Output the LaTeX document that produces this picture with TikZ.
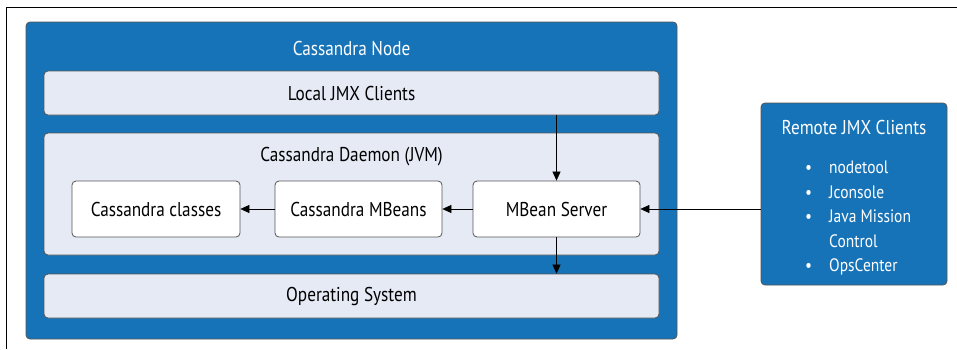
\documentclass[tikz,border=0pt]{standalone}
\usepackage{fontspec}
\setmainfont[FakeStretch=0.86]{PT Sans}
\usepackage{tikz}
\usetikzlibrary{arrows.meta,positioning}
\definecolor{nodeblue}{RGB}{23,115,183}
\definecolor{paleblue}{RGB}{230,234,245}
\definecolor{edgegray}{RGB}{85,85,85}

\tikzset{
  bluebox/.style={draw=edgegray,fill=nodeblue,rounded corners=4pt,line width=0.8pt},
  layerbox/.style={draw=edgegray,fill=paleblue,rounded corners=4pt,line width=0.8pt},
  classbox/.style={draw=edgegray,fill=white,rounded corners=4pt,line width=0.8pt,
    font=\fontsize{20}{24}\selectfont},
  lbl/.style={font=\fontsize{20}{24}\selectfont},
  wlbl/.style={font=\fontsize{20}{24}\selectfont,text=white},
  flow/.style={-{Triangle[length=9pt,width=8pt]},line width=0.6pt},
}

\begin{document}
\begin{tikzpicture}[x=1pt,y=-1pt]
  % page size in pixels, y grows downward
  \useasboundingbox (0,0) rectangle (957,349);

  % frame, only top and left edges are visible
  \draw[line width=1pt] (957,7.5) -- (6.5,7.5) -- (6.5,349);

  % --- the Cassandra node and its layers
  \node[bluebox,minimum width=651pt,minimum height=317pt] (cnode) at (351.5,180.5) {};
  \node[wlbl] (cnodetitle) at (351.5,48.5) {Cassandra Node};

  \node[layerbox,minimum width=615pt,minimum height=44pt,lbl] (localjmx) at (351.5,93) {Local JMX Clients};
  \node[layerbox,minimum width=615pt,minimum height=122pt] (daemon) at (351.5,194) {};
  \node[lbl] (daemontitle) at (351.5,157) {Cassandra Daemon (JVM)};
  \node[layerbox,minimum width=615pt,minimum height=44pt,lbl] (os) at (351.5,296) {Operating System};

  % inner boxes of the daemon
  \node[classbox,minimum width=168pt,minimum height=56pt] (classes) at (156,209) {Cassandra classes};
  \node[classbox,minimum width=167pt,minimum height=56pt] (mbeans) at (358.5,209) {Cassandra MBeans};
  \node[classbox,minimum width=167pt,minimum height=56pt] (mserver) at (556.5,209) {MBean Server};

  % --- remote clients
  \node[bluebox,minimum width=186pt,minimum height=182pt] (remote) at (854,194) {};
  \node[wlbl] (remotetitle) at (854,127) {Remote JMX Clients};
  \node[wlbl,anchor=north west,align=left,inner sep=0pt,font=\fontsize{18}{24.5}\selectfont] (remoteitems) at (805,161)
    {\textbullet\hspace{17pt}nodetool\\
     \textbullet\hspace{17pt}Jconsole\\
     \textbullet\hspace{17pt}Java Mission\\
     \phantom{\textbullet}\hspace{17pt}Control\\
     \textbullet\hspace{17pt}OpsCenter};

  % --- connectors
  \draw[flow] (localjmx.south -| mserver.north) -- (mserver.north);
  \draw[flow] (mserver.south) -- (os.north -| mserver.south);
  \draw[flow] (mserver) -- (mbeans);
  \draw[flow] (mbeans) -- (classes);
  \draw[flow] (remote.west |- mserver.east) -- (mserver.east);
\end{tikzpicture}
\end{document}
